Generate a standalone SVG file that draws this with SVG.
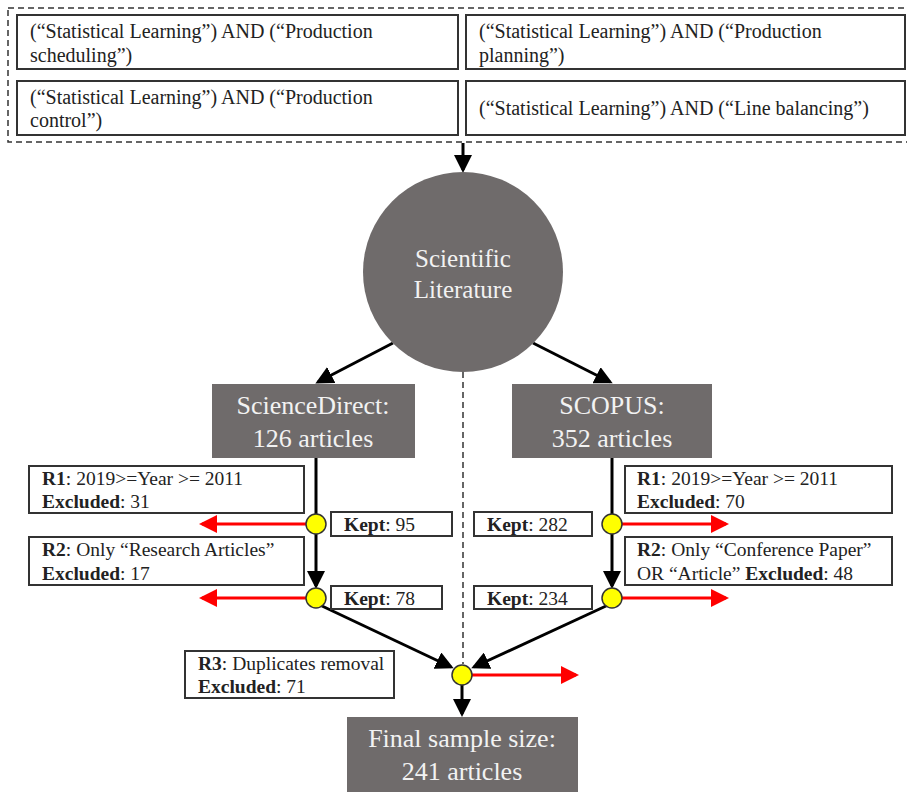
<svg xmlns="http://www.w3.org/2000/svg" width="907" height="792" viewBox="0 0 907 792">
<defs>
<marker id="ab" markerWidth="6" markerHeight="6" refX="5" refY="3" orient="auto" markerUnits="strokeWidth"><path d="M0,0 L6,3 L0,6 z" fill="#000"/></marker>
<marker id="ar" markerWidth="6" markerHeight="6" refX="5" refY="3" orient="auto" markerUnits="strokeWidth"><path d="M0,0 L6,3 L0,6 z" fill="#ff0000"/></marker>
</defs>
<style>
text{font-family:"Liberation Serif","Times New Roman",serif;}
.q{font-size:19.5px;fill:#222;}
.t{font-size:20px;fill:#222;}
.wb{fill:#fff;stroke:#333;stroke-width:2;}
.g{fill:#6f6b6b;}
.gt{font-size:26px;fill:#f2f2f2;text-anchor:middle;}
.b{font-weight:bold;}
.bl{stroke:#000;stroke-width:3;fill:none;}
.rd{stroke:#ff0000;stroke-width:3;fill:none;}
.y{fill:#ffff00;stroke:#333;stroke-width:1.5;}
</style>
<rect width="907" height="792" fill="#fff"/>
<g id="query-group">
<rect x="8" y="8" width="905" height="134" fill="none" stroke="#333" stroke-width="1.5" stroke-dasharray="6,4"/>
<g id="q1"><rect class="wb" x="17" y="15" width="441" height="54"/><text class="t" x="30" y="38">(“Statistical Learning”) AND (“Production</text><text class="t" x="30" y="62">scheduling”)</text></g>
<g id="q2"><rect class="wb" x="466" y="15" width="439" height="54"/><text class="t" x="479" y="38">(“Statistical Learning”) AND (“Production</text><text class="t" x="479" y="62">planning”)</text></g>
<g id="q3"><rect class="wb" x="17" y="81" width="441" height="54"/><text class="t" x="30" y="104">(“Statistical Learning”) AND (“Production</text><text class="t" x="30" y="127">control”)</text></g>
<g id="q4"><rect class="wb" x="466" y="81" width="439" height="54"/><text class="t" x="479" y="115">(“Statistical Learning”) AND (“Line balancing”)</text></g>
</g>
<g id="connectors">
<line class="bl" x1="463" y1="143" x2="463" y2="170" marker-end="url(#ab)"/>
<line class="bl" x1="393" y1="343" x2="318" y2="382" marker-end="url(#ab)"/>
<line class="bl" x1="533" y1="343" x2="610" y2="382" marker-end="url(#ab)"/>
<line x1="463" y1="372" x2="463" y2="664" stroke="#333" stroke-width="1.5" stroke-dasharray="6,4"/>
<line class="bl" x1="316" y1="458" x2="316" y2="514"/>
<line class="bl" x1="316" y1="534" x2="316" y2="586" marker-end="url(#ab)"/>
<line class="bl" x1="612" y1="458" x2="612" y2="514"/>
<line class="bl" x1="612" y1="534" x2="612" y2="586" marker-end="url(#ab)"/>
<line class="rd" x1="306" y1="524" x2="202" y2="524" marker-end="url(#ar)"/>
<line class="rd" x1="306" y1="598" x2="202" y2="598" marker-end="url(#ar)"/>
<line class="rd" x1="622" y1="524" x2="726" y2="524" marker-end="url(#ar)"/>
<line class="rd" x1="622" y1="598" x2="726" y2="598" marker-end="url(#ar)"/>
<line class="bl" x1="322" y1="606" x2="451" y2="667" marker-end="url(#ab)"/>
<line class="bl" x1="606" y1="606" x2="474" y2="667" marker-end="url(#ab)"/>
<line class="rd" x1="472" y1="675" x2="576" y2="675" marker-end="url(#ar)"/>
<line class="bl" x1="462" y1="685" x2="462" y2="714" marker-end="url(#ab)"/>
</g>
<g id="scientific-literature"><circle class="g" cx="463" cy="272" r="100"/><text class="gt" x="463" y="267" style="font-size:25px">Scientific</text><text class="gt" x="463" y="298" style="font-size:25px">Literature</text></g>
<g id="sciencedirect"><rect class="g" x="212" y="384" width="203" height="74"/><text class="gt" x="313" y="414">ScienceDirect:</text><text class="gt" x="313" y="447">126 articles</text></g>
<g id="scopus"><rect class="g" x="512" y="384" width="200" height="74"/><text class="gt" x="612" y="414">SCOPUS:</text><text class="gt" x="612" y="447">352 articles</text></g>
<g id="sd-r1"><rect class="wb" x="29" y="466" width="275" height="47"/><text class="q" x="42" y="485"><tspan class="b">R1</tspan>: 2019&gt;=Year &gt;= 2011</text><text class="q" x="42" y="508"><tspan class="b">Excluded</tspan>: 31</text></g>
<g id="sd-r2"><rect class="wb" x="29" y="537" width="275" height="48"/><text class="q" x="42" y="556"><tspan class="b">R2</tspan>: Only “Research Articles”</text><text class="q" x="42" y="580"><tspan class="b">Excluded</tspan>: 17</text></g>
<g id="sc-r1"><rect class="wb" x="625" y="466" width="267" height="47"/><text class="q" x="637" y="485"><tspan class="b">R1</tspan>: 2019&gt;=Year &gt;= 2011</text><text class="q" x="637" y="508"><tspan class="b">Excluded</tspan>: 70</text></g>
<g id="sc-r2"><rect class="wb" x="625" y="537" width="267" height="48"/><text class="q" x="637" y="556"><tspan class="b">R2</tspan>: Only “Conference Paper”</text><text class="q" x="637" y="580">OR “Article” <tspan class="b">Excluded</tspan>: 48</text></g>
<g id="kept-95"><rect class="wb" x="331" y="512" width="121" height="24"/><text class="q" x="344" y="531"><tspan class="b">Kept</tspan>: 95</text></g>
<g id="kept-78"><rect class="wb" x="331" y="586" width="111" height="23"/><text class="q" x="344" y="605"><tspan class="b">Kept</tspan>: 78</text></g>
<g id="kept-282"><rect class="wb" x="474" y="512" width="118" height="24"/><text class="q" x="487" y="531"><tspan class="b">Kept</tspan>: 282</text></g>
<g id="kept-234"><rect class="wb" x="474" y="586" width="118" height="23"/><text class="q" x="487" y="605"><tspan class="b">Kept</tspan>: 234</text></g>
<g id="r3"><rect class="wb" x="185" y="651" width="209" height="47"/><text class="q" x="198" y="670"><tspan class="b">R3</tspan>: Duplicates removal</text><text class="q" x="198" y="693"><tspan class="b">Excluded</tspan>: 71</text></g>
<g id="junctions">
<circle class="y" cx="316" cy="524" r="10"/>
<circle class="y" cx="316" cy="598" r="10"/>
<circle class="y" cx="612" cy="524" r="10"/>
<circle class="y" cx="612" cy="598" r="10"/>
<circle class="y" cx="462" cy="675" r="10"/>
</g>
<g id="final"><rect class="g" x="347" y="717" width="231" height="80"/><text class="gt" x="462" y="747">Final sample size:</text><text class="gt" x="462" y="780">241 articles</text></g>
</svg>
